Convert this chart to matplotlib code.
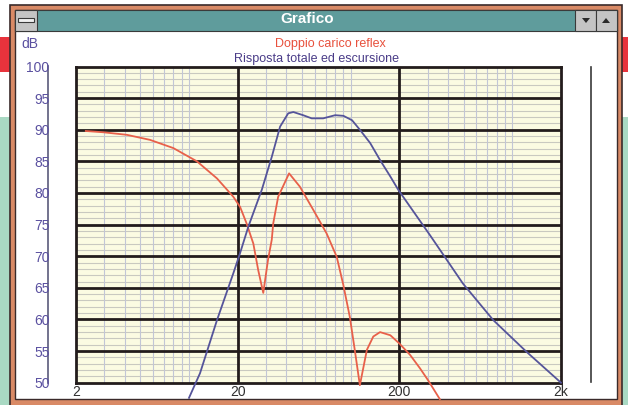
import matplotlib
matplotlib.use("Agg")
import matplotlib.pyplot as plt
from matplotlib.patches import Rectangle, Polygon
import numpy as np

plt.rcParams['font.family'] = ['Liberation Sans', 'DejaVu Sans']

# ---- data ----
red_f = [2.3, 2.95, 4.12, 5.74, 8.0, 11.2, 14.9, 18.8, 20.7, 22.7, 24.1, 25.0, 26.8,
         28.8, 30.8, 32.5, 33.2, 35.6, 41.6, 48.5, 58.8, 71, 82, 90, 98.8, 106, 114,
         126, 138, 152, 176, 200, 233, 268, 301, 356]
red_db = [89.8, 89.6, 89.2, 88.4, 87.1, 85.0, 82.3, 79.4, 77.8, 75.2, 73.2, 72.0, 67.8,
          64.2, 69.4, 72.6, 75.2, 79.4, 83.1, 81.0, 77.3, 73.6, 69.9, 65.5, 60.4, 55.2, 49.6,
          55.2, 57.3, 58.0, 57.5, 56.2, 54.4, 52.3, 50.4, 47.4]
blue_f = [10.0, 11.7, 14.9, 18.8, 20.7, 23.3, 28.2, 32.5, 36.6, 41.1, 44.2, 50.8, 57.4,
          67.6, 80.2, 90.2, 102, 114, 132, 152, 176, 197, 310, 494, 762, 1222, 2000]
blue_db = [47.6, 51.5, 59.9, 67.3, 70.5, 74.7, 80.5, 85.7, 90.5, 92.6, 92.8, 92.3, 91.8,
           91.8, 92.3, 92.2, 91.5, 90.0, 87.9, 85.2, 82.6, 80.5, 73.3, 65.7, 59.9, 54.9, 50.0]
x_ticks = [2, 20, 200, 2000]
x_labels = ["2", "20", "200", "2k"]
y_ticks = [50, 55, 60, 65, 70, 75, 80, 85, 90, 95, 100]
y_labels = [str(v) for v in y_ticks]
title1 = "Doppio carico reflex"
title2 = "Risposta totale ed escursione"
window_title = "Grafico"

W, H = 628, 405
fig = plt.figure(figsize=(W / 100, H / 100), dpi=100)

# ---- background / window chrome (pixel coords) ----
bg = fig.add_axes([0, 0, 1, 1])
bg.set_xlim(0, W)
bg.set_ylim(H, 0)
bg.axis('off')

def rect(x0, y0, x1, y1, fc, ec='none', lw=0, z=1):
    bg.add_patch(Rectangle((x0, y0), x1 - x0, y1 - y0, facecolor=fc, edgecolor=ec, lw=lw, zorder=z))

rect(0, 0, W, H, '#ffffff', z=0)
# outside strips
rect(0, 117, 12, H, '#a9d9c3')
rect(620, 117, W, H, '#a9d9c3')
rect(0, 37, 12, 72, '#e8333c')
rect(620, 37, W, 72, '#e8333c')
# window frame
rect(10, 5, 622, H + 2, '#d98a66', ec='#3a2a2a', lw=1.2, z=2)
rect(15, 10, 617, 399, '#ffffff', ec='#3a2a2a', lw=1.0, z=3)
# title bar
rect(15, 10, 617, 31, '#5f9c9c', ec='#3a3a3a', lw=0.8, z=4)
# system menu
rect(15, 10, 37, 31, '#c4c4c4', ec='#3a3a3a', lw=0.8, z=5)
rect(18, 18, 34, 22, '#f0f0f0', ec='#3a3a3a', lw=0.8, z=6)
# min / max buttons
rect(575, 10, 596, 31, '#c4c4c4', ec='#3a3a3a', lw=0.8, z=5)
rect(596, 10, 617, 31, '#c4c4c4', ec='#3a3a3a', lw=0.8, z=5)
bg.add_patch(Polygon([[582, 18], [590, 18], [586, 23]], closed=True, fc='#2a2a2a', ec='none', zorder=6))
bg.add_patch(Polygon([[602, 23], [610, 23], [606, 18]], closed=True, fc='#2a2a2a', ec='none', zorder=6))
bg.text(307, 19, window_title, color='white', fontsize=11, fontweight='bold',
        ha='center', va='center', zorder=7)

# titles
bg.text(330, 44, title1, color='#e8503c', fontsize=9, ha='center', va='center', zorder=7)
bg.text(317, 59, title2, color='#4a3c88', fontsize=9, ha='center', va='center', zorder=7)
bg.text(21, 44, "dB", color='#5a50a0', fontsize=10, ha='left', va='center', zorder=7)

# left axis line and right line
bg.plot([48.3, 48.3], [66, 382.5], color='#5a5a7a', lw=1.2, zorder=7)
bg.plot([591, 591], [66.5, 381.5], color='#3a3a3a', lw=1.2, zorder=7)

# ---- plot area ----
L, R, T, B = 76, 561, 66.5, 382.7
ax = fig.add_axes([L / W, 1 - B / H, (R - L) / W, (B - T) / H], zorder=10)
ax.set_xscale('log')
ax.set_xlim(2, 2000)
ax.set_ylim(50, 100)
ax.set_facecolor('#fbfbe2')

# minor grid
for d in range(51, 100):
    if d % 5:
        ax.axhline(d, color='#c9c9c0', lw=0.8, zorder=1)
for dec in [1, 10, 100]:
    for k in range(3, 11):
        ax.axvline(k * dec, color='#c2c6d6', lw=0.8, zorder=1)
# major grid
for d in range(55, 100, 5):
    ax.axhline(d, color='#231c1c', lw=2.0, zorder=2)
for f in [20, 200]:
    ax.axvline(f, color='#231c1c', lw=2.0, zorder=2)
for s in ax.spines.values():
    s.set_linewidth(2.0)
    s.set_color('#231c1c')

ax.plot(red_f, red_db, color='#e8604a', lw=1.3, zorder=5, clip_on=False)
ax.plot(blue_f, blue_db, color='#55549a', lw=1.3, zorder=5, clip_on=False)

ax.set_xticks(x_ticks)
ax.set_xticklabels(x_labels)
ax.xaxis.set_minor_locator(matplotlib.ticker.NullLocator())
ax.set_yticks(y_ticks)
ax.set_yticklabels(y_labels)
ax.tick_params(axis='x', length=0, pad=2, labelsize=10, labelcolor='#303030')
ax.tick_params(axis='y', length=0, pad=19, labelsize=10, labelcolor='#5a50a0')

fig.savefig('out.png', dpi=100)
